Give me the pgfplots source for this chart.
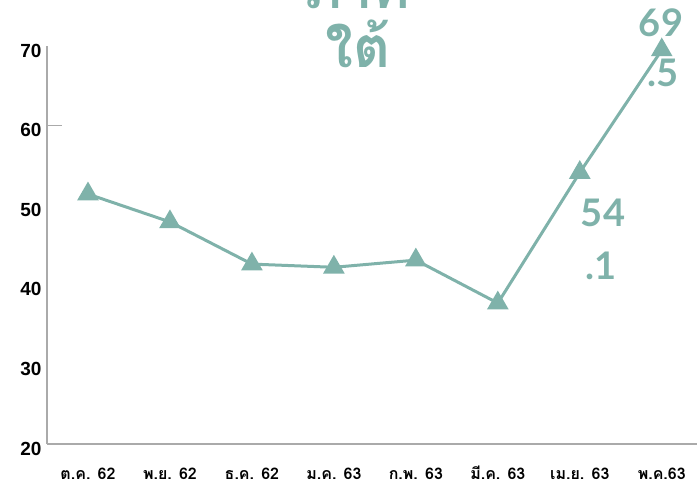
\documentclass[border=0pt]{standalone}
\usepackage{pgfplots}
\pgfplotsset{compat=1.18}
\usepackage{fontspec}
\setmainfont{Liberation Sans}
\newfontfamily\thaifont[Script=Thai]{Loma}
\newfontfamily\latofont{Lato}
\definecolor{teal1}{RGB}{127,178,170}
\definecolor{axgray}{RGB}{170,170,170}
\begin{document}
\begin{tikzpicture}[x=1pt,y=1pt]
\useasboundingbox (0,0) rectangle (697,486);
\begin{axis}[
  at={(47pt,42pt)}, anchor=south west,
  scale only axis, width=650pt, height=398pt,
  xmin=-0.5, xmax=7.43, ymin=20, ymax=70,
  axis lines*=left,
  axis line style={draw=axgray, line width=1.2pt},
  xtick={0,...,7},
  xticklabels={ต.ค. 62, พ.ย. 62, ธ.ค. 62, ม.ค. 63, ก.พ. 63, มี.ค. 63, เม.ย. 63, พ.ค.63},
  ytick={20,30,...,70},
  major tick length=0pt,
  extra y ticks={60},
  extra y tick labels={},
  extra y tick style={tick align=inside, major tick length=15pt, tick style={draw=axgray, line width=1.2pt}},
  /pgf/number format/assume math mode=true,
  yticklabel style={font=\bfseries\fontsize{19}{19}\selectfont, xshift=-2pt, yshift=-4.5pt},
  xticklabel style={font=\thaifont\bfseries\fontsize{16}{16}\selectfont, text height=12pt, text depth=0pt, yshift=-20pt},
  clip=false,
]
\addplot[color=teal1, line width=3pt, mark=triangle*, mark size=9.5pt, mark options={solid}]
coordinates {(0,51.4) (1,47.9) (2,42.6) (3,42.2) (4,43.1) (5,37.7) (6,54.1) (7,69.5)};
\end{axis}
\node[font=\latofont\bfseries\fontsize{38}{38}\selectfont, text=teal1, anchor=base] at (661,449) {69};
\node[font=\latofont\bfseries\fontsize{38}{38}\selectfont, text=teal1, anchor=base] at (663,399) {.5};
\node[font=\latofont\bfseries\fontsize{38}{38}\selectfont, text=teal1, anchor=base] at (603,259) {54};
\node[font=\latofont\bfseries\fontsize{38}{38}\selectfont, text=teal1, anchor=base] at (601,206) {.1};
\node[font=\thaifont\bfseries\fontsize{56}{56}\selectfont, text=teal1, anchor=base] at (358,477) {ภาค};
\node[font=\thaifont\bfseries\fontsize{57}{57}\selectfont, text=teal1, anchor=base] at (358,418) {ใต้};
\end{tikzpicture}
\end{document}
